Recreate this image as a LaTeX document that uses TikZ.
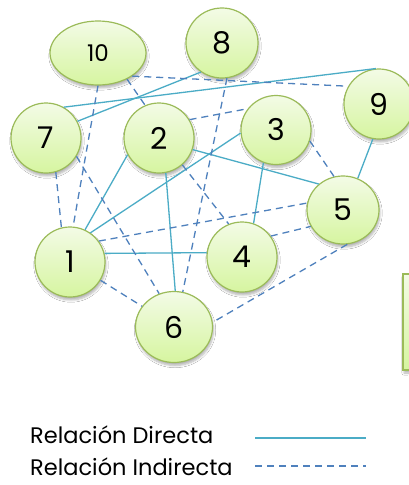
\documentclass[tikz,border=0pt]{standalone}
\usepackage{fontspec}
\setmainfont{Poppins}
\usetikzlibrary{shapes.geometric,shadows.blur}
\definecolor{nodeLine}{RGB}{155,187,89}
\definecolor{nodeTop}{RGB}{243,251,230}
\definecolor{nodeBottom}{RGB}{214,245,160}
\definecolor{directLine}{RGB}{75,172,198}
\definecolor{indirectLine}{RGB}{79,129,189}

\begin{document}
\begin{tikzpicture}[x=1pt,y=-1pt,
    actor/.style={ellipse, draw=nodeLine, line width=1.2pt, top color=nodeTop, bottom color=nodeBottom,
      inner sep=0pt, minimum width=70pt, minimum height=70pt, font=\fontsize{30}{32}\selectfont,
      blur shadow={shadow xshift=1pt, shadow yshift=-3pt, shadow opacity=30, shadow blur steps=6}},
    direct/.style={directLine, line width=1.3pt},
    indirect/.style={indirectLine, line width=1.3pt, dash pattern=on 7pt off 5pt}]
  \useasboundingbox (0,0) rectangle (408,485);
  \fill[white] (0,0) rectangle (408,485);

  \draw[nodeLine, line width=1.2pt, top color=nodeTop, bottom color=nodeBottom,
    blur shadow={shadow xshift=1pt, shadow yshift=-3pt, shadow opacity=30}] (403,274) rectangle (440,370);

  \node[actor, minimum width=96pt, minimum height=64pt, font=\fontsize{23}{25}\selectfont] (n10) at (98,53) {10};
  \node[actor, minimum width=72pt] (n8) at (222,43) {8};
  \node[actor] (n9) at (379,104) {9};
  \node[actor] (n7) at (46,138) {7};
  \node[actor] (n2) at (159,138) {2};
  \node[actor, minimum height=69pt] (n3) at (276,130) {3};
  \node[actor, minimum width=72pt, minimum height=68pt] (n5) at (343,210) {5};
  \node[actor] (n4) at (242,257) {4};
  \node[actor] (n1) at (70,262) {1};
  \node[actor, minimum width=77pt, minimum height=71pt] (n6) at (174,327) {6};

  \draw[direct] (n7.60) -- (n9.95);
  \draw[direct] (n7.28) -- (n8.234);
  \draw[direct] (n2.341) -- (n5.133);
  \draw[direct] (n3.185) -- (n1.55);
  \draw[direct] (n3.249) -- (n4.71);
  \draw[direct] (n2.208) -- (n1.65);
  \draw[direct] (n2.281) -- (n6.88);
  \draw[direct] (n1.14) -- (n4.173);
  \draw[direct] (n9.260) -- (n5.65);

  \draw[indirect] (n10.326) -- (n9.150);
  \draw[indirect] (n10.318) -- (n2.113);
  \draw[indirect] (n10.270) -- (n1.85);
  \draw[indirect] (n7.286) -- (n1.104);
  \draw[indirect] (n7.329) -- (n6.114);
  \draw[indirect] (n8.278) -- (n6.76);
  \draw[indirect] (n2.311) -- (n4.112);
  \draw[indirect] (n2.31) -- (n3.143);
  \draw[indirect] (n3.342) -- (n5.105);
  \draw[indirect] (n1.36) -- (n5.169);
  \draw[indirect] (n4.36) -- (n5.207);
  \draw[indirect] (n5.277) -- (n6.7);
  \draw[indirect] (n1.329) -- (n6.147);

  \node[anchor=west, inner sep=0pt, font=\fontsize{22.5}{24}\selectfont] (directText) at (30,435) {Relación Directa};
  \node[anchor=west, inner sep=0pt, font=\fontsize{22.5}{24}\selectfont] (indirectText) at (30,467) {Relación Indirecta};
  \coordinate (directA) at (255,438);
  \coordinate (directB) at (366,438);
  \coordinate (indirectA) at (255,466);
  \coordinate (indirectB) at (366,466);
  \draw[direct] (directA) -- (directB);
  \draw[indirect] (indirectA) -- (indirectB);
\end{tikzpicture}
\end{document}
